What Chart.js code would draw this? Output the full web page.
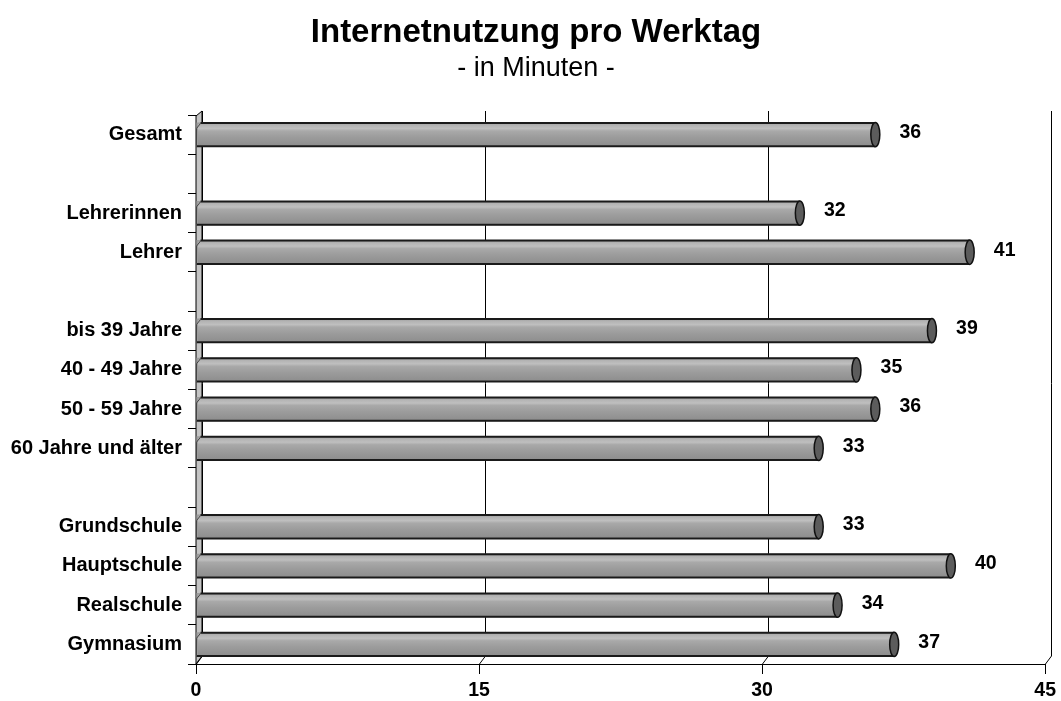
<!DOCTYPE html>
<html>
<head>
<meta charset="utf-8">
<script src="https://cdn.jsdelivr.net/npm/chart.js@4.4.0/dist/chart.umd.min.js"></script>
<style>
html,body{margin:0;padding:0;background:#fff;}
#wrap{width:1061px;height:701px;position:relative;}
</style>
</head>
<body>
<div id="wrap"><canvas id="c" width="1061" height="701"></canvas></div>
<script>
const categories = ['Gesamt', '', 'Lehrerinnen', 'Lehrer', '', 'bis 39 Jahre', '40 - 49 Jahre', '50 - 59 Jahre', '60 Jahre und älter', '', 'Grundschule', 'Hauptschule', 'Realschule', 'Gymnasium'];
const minutes = [36, null, 32, 41, null, 39, 35, 36, 33, null, 33, 40, 34, 37];
const xTicks = [0, 15, 30, 45];
const titleText = 'Internetnutzung pro Werktag';
const subtitleText = '- in Minuten -';

const FONT = '"Liberation Sans", Arial, sans-serif';
const DX = 6, DY = 8;

const frame3d = {
  id: 'frame3d',
  beforeDatasetsDraw(chart) {
    const {ctx, chartArea: a, scales: {x}} = chart;
    ctx.save();
    const x0 = x.getPixelForValue(0);
    ctx.beginPath();
    ctx.moveTo(x0, a.bottom);
    ctx.lineTo(x0, a.top + 1);
    ctx.lineTo(x0 + DX, a.top + 1 - 5);
    ctx.lineTo(x0 + DX, a.bottom - DY);
    ctx.closePath();
    ctx.fillStyle = '#c4c4c4';
    ctx.fill();
    ctx.strokeStyle = '#000';
    ctx.lineWidth = 1;
    ctx.stroke();
    xTicks.forEach(v => {
      const px = Math.round(x.getPixelForValue(v)) + 0.5;
      ctx.beginPath();
      ctx.moveTo(px, a.bottom);
      ctx.lineTo(px + DX, a.bottom - DY);
      ctx.lineTo(px + DX, a.top - 4);
      ctx.strokeStyle = '#000';
      ctx.lineWidth = 1;
      ctx.stroke();
    });
    ctx.restore();
  },
  afterDatasetsDraw(chart) {
    const {ctx} = chart;
    const meta = chart.getDatasetMeta(0);
    ctx.save();
    meta.data.forEach((bar, i) => {
      const v = minutes[i];
      if (v === null || v === undefined) return;
      const top = bar.y - bar.height / 2, bot = bar.y + bar.height / 2;
      const left = bar.base, right = bar.x;
      const g = ctx.createLinearGradient(0, top, 0, bot);
      g.addColorStop(0, '#9e9e9e');
      g.addColorStop(0.12, '#b4b4b4');
      g.addColorStop(0.25, '#bfbfbf');
      g.addColorStop(0.35, '#a9a9a9');
      g.addColorStop(0.6, '#9c9c9c');
      g.addColorStop(1, '#8c8c8c');
      ctx.fillStyle = g;
      ctx.fillRect(left + 1.5, top + 1.5, right - left - 1.5, bot - top - 3);
      ctx.strokeStyle = '#1a1a1a';
      ctx.lineWidth = 2;
      ctx.beginPath();
      ctx.moveTo(left + 4, top + 0.5);
      ctx.lineTo(right, top + 0.5);
      ctx.moveTo(left, bot - 0.5);
      ctx.lineTo(right, bot - 0.5);
      ctx.stroke();
      ctx.beginPath();
      ctx.moveTo(left, bot - 1);
      ctx.lineTo(left, top + 6);
      ctx.lineTo(left + 4, top + 1);
      ctx.lineWidth = 1;
      ctx.strokeStyle = '#444';
      ctx.stroke();
      ctx.beginPath();
      ctx.ellipse(right, bar.y, 4.5, (bot - top) / 2, 0, 0, Math.PI * 2);
      ctx.fillStyle = '#5c5c5c';
      ctx.fill();
      ctx.lineWidth = 1.5;
      ctx.strokeStyle = '#111';
      ctx.stroke();
      ctx.fillStyle = '#000';
      ctx.font = 'bold 19.5px ' + FONT;
      ctx.textAlign = 'center';
      ctx.textBaseline = 'middle';
      ctx.fillText(String(v), right + 35, bar.y - 2);
    });
    ctx.restore();
  },
  afterDraw(chart) {
    const {ctx} = chart;
    ctx.save();
    ctx.fillStyle = '#000';
    ctx.textAlign = 'center';
    ctx.textBaseline = 'alphabetic';
    ctx.font = 'bold 33px ' + FONT;
    ctx.fillText(titleText, 536, 42);
    ctx.font = '27px ' + FONT;
    ctx.fillText(subtitleText, 536, 76);
    ctx.restore();
  }
};

new Chart(document.getElementById('c'), {
  type: 'bar',
  data: {
    labels: categories,
    datasets: [{
      data: minutes,
      backgroundColor: '#9c9c9c',
      borderWidth: 0,
      barPercentage: 0.62,
      categoryPercentage: 1.0
    }]
  },
  options: {
    indexAxis: 'y',
    responsive: false,
    animation: false,
    devicePixelRatio: 1,
    layout: {padding: {top: 115, right: 12, bottom: 0, left: 0}},
    plugins: {
      legend: {display: false},
      title: {display: false},
      tooltip: {enabled: false}
    },
    scales: {
      x: {
        min: 0, max: 45,
        afterFit(s) { s.height = 37; },
        afterBuildTicks(s) { s.ticks = xTicks.map(v => ({value: v})); },
        grid: {drawOnChartArea: false, tickLength: 10, color: '#000', lineWidth: 1},
        border: {display: true, color: '#000', width: 1},
        ticks: {color: '#000', font: {family: FONT, size: 19.5, weight: 'bold'}, padding: 5, maxRotation: 0}
      },
      y: {
        afterFit(s) { s.width = 196; },
        grid: {drawOnChartArea: false, tickLength: 8, color: '#000', lineWidth: 1, offset: true},
        border: {display: true, color: '#000', width: 1},
        ticks: {color: '#000', font: {family: FONT, size: 20, weight: 'bold'}, padding: 6, autoSkip: false}
      }
    }
  },
  plugins: [frame3d]
});
</script>
</body>
</html>
